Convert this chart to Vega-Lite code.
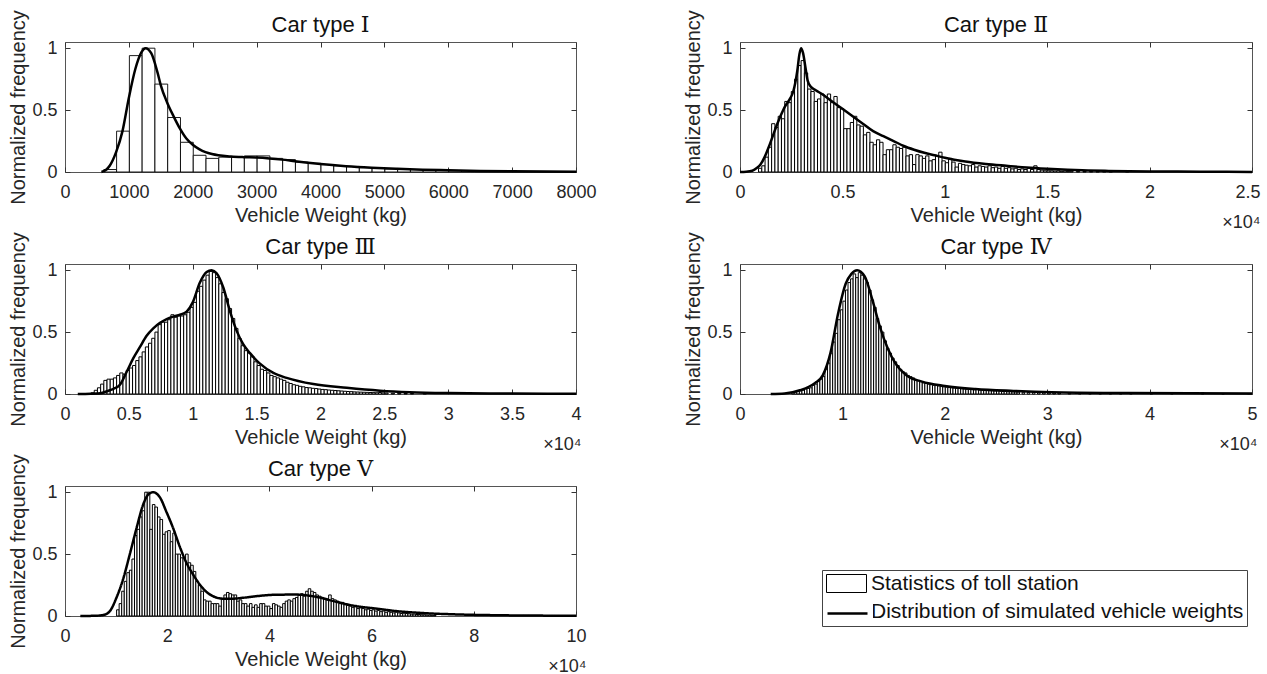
{
  "$schema": "https://vega.github.io/schema/vega-lite/v6.json",
  "padding": {"left": 8, "top": 9, "right": 5, "bottom": 5},
  "background": "white",
  "config": {
    "font": "Liberation Sans",
    "view": {"stroke": "#555", "strokeWidth": 1},
    "axis": {
      "grid": false, "domain": false, "tickSize": -5, "tickColor": "#333", "tickWidth": 1,
      "labelFont": "Liberation Sans", "labelFontSize": 18, "labelColor": "#262626",
      "titleFont": "Liberation Sans", "titleFontSize": 20, "titleFontWeight": "normal", "titleColor": "#262626",
      "labelFlush": false, "labelOverlap": false, "labelBound": false
    },
    "axisX": {"labelPadding": 16, "labelLineHeight": 30, "titleY": 33, "titleBaseline": "top"},
    "axisY": {"labelPadding": 13, "titlePadding": 3},
    "title": {"font": "Liberation Sans, DejaVu Serif", "fontSize": 22, "fontWeight": "normal", "color": "#111", "offset": -27},
    "legend": {
      "title": null, "orient": "none", "labelFont": "Liberation Sans", "labelFontSize": 21, "labelLimit": 600,
      "labelColor": "#111", "labelOffset": 14, "rowPadding": 5, "symbolSize": 400, "symbolOffset": 11
    }
  },
  "datasets": {
    "b1": [
      {"w":600,"f":0.02},{"w":800,"f":0.33},{"w":1000,"f":0.94},{"w":1200,"f":1.0},{"w":1400,"f":0.71},{"w":1600,"f":0.44},
      {"w":1800,"f":0.24},{"w":2000,"f":0.135},{"w":2200,"f":0.11},{"w":2400,"f":0.12},{"w":2600,"f":0.12},{"w":2800,"f":0.13},
      {"w":3000,"f":0.13},{"w":3200,"f":0.11},{"w":3400,"f":0.1},{"w":3600,"f":0.08},{"w":3800,"f":0.07},{"w":4000,"f":0.06},
      {"w":4200,"f":0.05},{"w":4400,"f":0.045},{"w":4600,"f":0.035},{"w":4800,"f":0.03},{"w":5000,"f":0.025},{"w":5200,"f":0.02},
      {"w":5400,"f":0.02},{"w":5600,"f":0.015},{"w":5800,"f":0.012},{"w":6000,"f":0.01},{"w":6200,"f":0.008},{"w":6400,"f":0.007},
      {"w":6600,"f":0.006},{"w":6800,"f":0.005},{"w":7000,"f":0.004},{"w":7200,"f":0.004},{"w":7400,"f":0.003},{"w":7600,"f":0.003},
      {"w":7800,"f":0.002}
    ],
    "c1": [
      {"w":570,"f":0},{"w":650,"f":0.02},{"w":700,"f":0.05},{"w":800,"f":0.16},{"w":900,"f":0.33},{"w":1000,"f":0.6},
      {"w":1100,"f":0.83},{"w":1200,"f":0.97},{"w":1260,"f":1.0},{"w":1350,"f":0.96},{"w":1450,"f":0.8},{"w":1500,"f":0.7},
      {"w":1600,"f":0.56},{"w":1700,"f":0.45},{"w":1800,"f":0.35},{"w":1900,"f":0.27},{"w":2000,"f":0.22},{"w":2100,"f":0.185},
      {"w":2200,"f":0.16},{"w":2300,"f":0.145},{"w":2400,"f":0.135},{"w":2600,"f":0.125},{"w":2800,"f":0.12},{"w":3000,"f":0.117},
      {"w":3200,"f":0.11},{"w":3400,"f":0.1},{"w":3600,"f":0.087},{"w":3800,"f":0.075},{"w":4000,"f":0.064},{"w":4400,"f":0.047},
      {"w":4800,"f":0.035},{"w":5200,"f":0.026},{"w":5600,"f":0.019},{"w":6000,"f":0.014},{"w":6500,"f":0.009},{"w":7000,"f":0.006},
      {"w":7500,"f":0.004},{"w":8000,"f":0.003}
    ],
    "b2": [
      {"w":880,"f":0.03},{"w":1040,"f":0.05},{"w":1200,"f":0.12},{"w":1360,"f":0.2},{"w":1520,"f":0.39},{"w":1680,"f":0.36},
      {"w":1840,"f":0.45},{"w":2000,"f":0.43},{"w":2160,"f":0.57},{"w":2320,"f":0.56},{"w":2480,"f":0.65},{"w":2640,"f":0.75},
      {"w":2800,"f":0.86},{"w":2960,"f":0.9},{"w":3120,"f":0.8},{"w":3280,"f":0.67},{"w":3440,"f":0.65},{"w":3600,"f":0.57},
      {"w":3760,"f":0.59},{"w":3920,"f":0.63},{"w":4080,"f":0.56},{"w":4240,"f":0.63},{"w":4400,"f":0.56},{"w":4560,"f":0.61},
      {"w":4720,"f":0.52},{"w":4880,"f":0.51},{"w":5040,"f":0.35},{"w":5200,"f":0.35},{"w":5360,"f":0.4},{"w":5520,"f":0.45},
      {"w":5680,"f":0.38},{"w":5840,"f":0.37},{"w":6000,"f":0.3},{"w":6160,"f":0.32},{"w":6320,"f":0.24},{"w":6480,"f":0.22},
      {"w":6640,"f":0.26},{"w":6800,"f":0.24},{"w":6960,"f":0.14},{"w":7120,"f":0.18},{"w":7280,"f":0.18},{"w":7440,"f":0.22},
      {"w":7600,"f":0.2},{"w":7760,"f":0.19},{"w":7920,"f":0.2},{"w":8080,"f":0.13},{"w":8240,"f":0.14},{"w":8400,"f":0.06},
      {"w":8560,"f":0.14},{"w":8720,"f":0.13},{"w":8880,"f":0.11},{"w":9040,"f":0.13},{"w":9200,"f":0.09},{"w":9360,"f":0.1},
      {"w":9520,"f":0.13},{"w":9680,"f":0.16},{"w":9840,"f":0.09},{"w":10000,"f":0.075},{"w":10160,"f":0.11},{"w":10320,"f":0.08},
      {"w":10480,"f":0.04},{"w":10640,"f":0.07},{"w":10800,"f":0.06},{"w":10960,"f":0.055},{"w":11120,"f":0.05},{"w":11280,"f":0.06},
      {"w":11440,"f":0.04},{"w":11600,"f":0.05},{"w":11760,"f":0.045},{"w":11920,"f":0.04},{"w":12080,"f":0.05},{"w":12240,"f":0.035},
      {"w":12400,"f":0.04},{"w":12560,"f":0.03},{"w":12720,"f":0.045},{"w":12880,"f":0.03},{"w":13040,"f":0.035},{"w":13200,"f":0.025},
      {"w":13360,"f":0.03},{"w":13520,"f":0.02},{"w":13680,"f":0.025},{"w":13840,"f":0.02},{"w":14000,"f":0.03},{"w":14160,"f":0.02},
      {"w":14320,"f":0.05},{"w":14480,"f":0.02},{"w":14640,"f":0.015},{"w":14800,"f":0.01},{"w":14960,"f":0.01},{"w":15120,"f":0.01},
      {"w":15280,"f":0.008},{"w":15440,"f":0.01},{"w":15600,"f":0.006},{"w":15760,"f":0.008},{"w":15920,"f":0.005},{"w":16080,"f":0.006},
      {"w":16400,"f":0.005},{"w":16720,"f":0.004},{"w":17040,"f":0.004},{"w":17360,"f":0.003},{"w":17680,"f":0.003},{"w":18000,"f":0.003},
      {"w":18800,"f":0.008}
    ],
    "c2": [
      {"w":0,"f":0},{"w":300,"f":0.002},{"w":600,"f":0.01},{"w":800,"f":0.03},{"w":1000,"f":0.06},{"w":1200,"f":0.12},
      {"w":1400,"f":0.2},{"w":1600,"f":0.29},{"w":1800,"f":0.38},{"w":2000,"f":0.46},{"w":2200,"f":0.53},{"w":2400,"f":0.58},
      {"w":2600,"f":0.65},{"w":2700,"f":0.72},{"w":2800,"f":0.82},{"w":2900,"f":0.95},{"w":2980,"f":1.0},{"w":3080,"f":0.96},
      {"w":3200,"f":0.84},{"w":3300,"f":0.74},{"w":3450,"f":0.69},{"w":3700,"f":0.66},{"w":4000,"f":0.63},{"w":4500,"f":0.57},
      {"w":5000,"f":0.51},{"w":5500,"f":0.45},{"w":6000,"f":0.39},{"w":6500,"f":0.33},{"w":7000,"f":0.29},{"w":7500,"f":0.25},
      {"w":8000,"f":0.21},{"w":8500,"f":0.18},{"w":9000,"f":0.155},{"w":9500,"f":0.135},{"w":10000,"f":0.115},{"w":11000,"f":0.085},
      {"w":12000,"f":0.065},{"w":13000,"f":0.05},{"w":14000,"f":0.036},{"w":15000,"f":0.026},{"w":16000,"f":0.018},{"w":17000,"f":0.013},
      {"w":18000,"f":0.009},{"w":20000,"f":0.005},{"w":22500,"f":0.003},{"w":25000,"f":0.001}
    ],
    "b3": [
      {"w":2000,"f":0.01},{"w":2250,"f":0.03},{"w":2500,"f":0.05},{"w":2750,"f":0.08},{"w":3000,"f":0.11},{"w":3250,"f":0.12},
      {"w":3500,"f":0.12},{"w":3750,"f":0.13},{"w":4000,"f":0.15},{"w":4250,"f":0.17},{"w":4500,"f":0.16},{"w":4750,"f":0.19},
      {"w":5000,"f":0.21},{"w":5250,"f":0.23},{"w":5500,"f":0.27},{"w":5750,"f":0.3},{"w":6000,"f":0.34},{"w":6250,"f":0.38},
      {"w":6500,"f":0.41},{"w":6750,"f":0.45},{"w":7000,"f":0.5},{"w":7250,"f":0.56},{"w":7500,"f":0.58},{"w":7750,"f":0.58},
      {"w":8000,"f":0.6},{"w":8250,"f":0.64},{"w":8500,"f":0.62},{"w":8750,"f":0.63},{"w":9000,"f":0.63},{"w":9250,"f":0.64},
      {"w":9500,"f":0.66},{"w":9750,"f":0.7},{"w":10000,"f":0.74},{"w":10250,"f":0.83},{"w":10500,"f":0.87},{"w":10750,"f":0.92},
      {"w":11000,"f":0.96},{"w":11250,"f":0.99},{"w":11500,"f":0.98},{"w":11750,"f":0.94},{"w":12000,"f":0.89},{"w":12250,"f":0.82},
      {"w":12500,"f":0.77},{"w":12750,"f":0.69},{"w":13000,"f":0.61},{"w":13250,"f":0.53},{"w":13500,"f":0.45},{"w":13750,"f":0.39},
      {"w":14000,"f":0.35},{"w":14250,"f":0.33},{"w":14500,"f":0.3},{"w":14750,"f":0.26},{"w":15000,"f":0.23},{"w":15250,"f":0.2},
      {"w":15500,"f":0.19},{"w":15750,"f":0.17},{"w":16000,"f":0.15},{"w":16250,"f":0.14},{"w":16500,"f":0.13},{"w":16750,"f":0.12},
      {"w":17000,"f":0.11},{"w":17250,"f":0.095},{"w":17500,"f":0.085},{"w":17750,"f":0.075},{"w":18000,"f":0.07},{"w":18250,"f":0.062},
      {"w":18500,"f":0.058},{"w":18750,"f":0.052},{"w":19000,"f":0.05},{"w":19250,"f":0.046},{"w":19500,"f":0.044},{"w":19750,"f":0.04},
      {"w":20000,"f":0.037},{"w":20250,"f":0.035},{"w":20500,"f":0.032},{"w":20750,"f":0.03},{"w":21000,"f":0.028},{"w":21250,"f":0.026},
      {"w":21500,"f":0.024},{"w":21750,"f":0.022},{"w":22000,"f":0.02},{"w":22250,"f":0.019},{"w":22500,"f":0.017},{"w":22750,"f":0.016},
      {"w":23000,"f":0.015},{"w":23250,"f":0.014},{"w":23500,"f":0.013},{"w":23750,"f":0.012},{"w":24000,"f":0.011},{"w":24250,"f":0.01},
      {"w":24500,"f":0.012},{"w":24750,"f":0.009},{"w":25000,"f":0.008},{"w":25500,"f":0.006},{"w":26000,"f":0.005},{"w":26500,"f":0.004},
      {"w":27000,"f":0.004},{"w":28000,"f":0.003}
    ],
    "c3": [
      {"w":1000,"f":0},{"w":2000,"f":0.002},{"w":2500,"f":0.004},{"w":2750,"f":0.006},{"w":3000,"f":0.012},{"w":3500,"f":0.03},
      {"w":3800,"f":0.042},{"w":4300,"f":0.075},{"w":4830,"f":0.18},{"w":5350,"f":0.29},{"w":5870,"f":0.38},{"w":6390,"f":0.47},
      {"w":6910,"f":0.53},{"w":7440,"f":0.575},{"w":7960,"f":0.605},{"w":8480,"f":0.625},{"w":9000,"f":0.64},{"w":9520,"f":0.665},
      {"w":10000,"f":0.74},{"w":10560,"f":0.9},{"w":11090,"f":0.985},{"w":11480,"f":1.0},{"w":11870,"f":0.975},{"w":12390,"f":0.86},
      {"w":12910,"f":0.67},{"w":13440,"f":0.51},{"w":13960,"f":0.4},{"w":14480,"f":0.33},{"w":15260,"f":0.245},{"w":16310,"f":0.17},
      {"w":17350,"f":0.13},{"w":19440,"f":0.08},{"w":22050,"f":0.05},{"w":24660,"f":0.027},{"w":27000,"f":0.015},{"w":30000,"f":0.008},
      {"w":35000,"f":0.004},{"w":40000,"f":0.002}
    ],
    "b4": [
      {"w":5000,"f":0.01},{"w":5250,"f":0.015},{"w":5500,"f":0.02},{"w":5750,"f":0.025},{"w":6000,"f":0.03},{"w":6250,"f":0.04},
      {"w":6500,"f":0.045},{"w":6750,"f":0.05},{"w":7000,"f":0.07},{"w":7250,"f":0.08},{"w":7500,"f":0.1},{"w":7750,"f":0.12},
      {"w":8000,"f":0.14},{"w":8250,"f":0.2},{"w":8500,"f":0.25},{"w":8750,"f":0.33},{"w":9000,"f":0.42},{"w":9250,"f":0.49},
      {"w":9500,"f":0.6},{"w":9750,"f":0.68},{"w":10000,"f":0.75},{"w":10250,"f":0.84},{"w":10500,"f":0.9},{"w":10750,"f":0.93},
      {"w":11000,"f":0.97},{"w":11250,"f":0.94},{"w":11500,"f":0.98},{"w":11750,"f":0.96},{"w":12000,"f":0.93},{"w":12250,"f":0.9},
      {"w":12500,"f":0.84},{"w":12750,"f":0.76},{"w":13000,"f":0.7},{"w":13250,"f":0.61},{"w":13500,"f":0.55},{"w":13750,"f":0.5},
      {"w":14000,"f":0.43},{"w":14250,"f":0.37},{"w":14500,"f":0.33},{"w":14750,"f":0.29},{"w":15000,"f":0.26},{"w":15250,"f":0.23},
      {"w":15500,"f":0.2},{"w":15750,"f":0.18},{"w":16000,"f":0.17},{"w":16250,"f":0.15},{"w":16500,"f":0.14},{"w":16750,"f":0.13},
      {"w":17000,"f":0.11},{"w":17250,"f":0.11},{"w":17500,"f":0.1},{"w":17750,"f":0.09},{"w":18000,"f":0.085},{"w":18250,"f":0.08},
      {"w":18500,"f":0.075},{"w":18750,"f":0.07},{"w":19000,"f":0.068},{"w":19250,"f":0.065},{"w":19500,"f":0.06},{"w":19750,"f":0.058},
      {"w":20000,"f":0.055},{"w":20250,"f":0.052},{"w":20500,"f":0.05},{"w":20750,"f":0.048},{"w":21000,"f":0.046},{"w":21250,"f":0.044},
      {"w":21500,"f":0.042},{"w":21750,"f":0.04},{"w":22000,"f":0.038},{"w":22250,"f":0.036},{"w":22500,"f":0.035},{"w":22750,"f":0.034},
      {"w":23000,"f":0.04},{"w":23250,"f":0.032},{"w":23500,"f":0.03},{"w":23750,"f":0.028},{"w":24000,"f":0.027},{"w":24250,"f":0.026},
      {"w":24500,"f":0.025},{"w":24750,"f":0.024},{"w":25000,"f":0.025},{"w":25250,"f":0.022},{"w":25500,"f":0.02},{"w":25750,"f":0.02},
      {"w":26000,"f":0.018},{"w":26250,"f":0.018},{"w":26500,"f":0.017},{"w":26750,"f":0.016},{"w":27000,"f":0.015},{"w":27500,"f":0.014},
      {"w":28000,"f":0.012},{"w":28500,"f":0.012},{"w":29000,"f":0.01},{"w":29500,"f":0.01},{"w":30000,"f":0.009},{"w":30500,"f":0.008},
      {"w":31000,"f":0.008},{"w":32000,"f":0.007},{"w":33000,"f":0.01},{"w":34000,"f":0.006},{"w":35000,"f":0.006},{"w":36000,"f":0.005},
      {"w":37000,"f":0.012},{"w":38000,"f":0.005},{"w":40000,"f":0.004},{"w":42000,"f":0.004},{"w":45000,"f":0.01},{"w":47000,"f":0.003}
    ],
    "c4": [
      {"w":3000,"f":0},{"w":4360,"f":0.005},{"w":5850,"f":0.03},{"w":7340,"f":0.09},{"w":8080,"f":0.15},{"w":8830,"f":0.33},
      {"w":9580,"f":0.65},{"w":10320,"f":0.89},{"w":10880,"f":0.97},{"w":11440,"f":1.0},{"w":12180,"f":0.95},{"w":12930,"f":0.76},
      {"w":13670,"f":0.54},{"w":14420,"f":0.37},{"w":15160,"f":0.25},{"w":16280,"f":0.15},{"w":17770,"f":0.1},{"w":20010,"f":0.065},
      {"w":22990,"f":0.04},{"w":26710,"f":0.025},{"w":30440,"f":0.015},{"w":37890,"f":0.008},{"w":50000,"f":0.004}
    ],
    "b5": [
      {"w":10000,"f":0.05},{"w":10500,"f":0.1},{"w":11000,"f":0.2},{"w":11500,"f":0.28},{"w":12000,"f":0.35},{"w":12500,"f":0.37},
      {"w":13000,"f":0.46},{"w":13500,"f":0.65},{"w":14000,"f":0.7},{"w":14500,"f":0.8},{"w":15000,"f":0.85},{"w":15500,"f":1.0},
      {"w":16000,"f":1.0},{"w":16500,"f":0.7},{"w":17000,"f":0.9},{"w":17500,"f":0.88},{"w":18000,"f":0.8},{"w":18500,"f":0.78},
      {"w":19000,"f":0.66},{"w":19500,"f":0.68},{"w":20000,"f":0.69},{"w":20500,"f":0.6},{"w":21000,"f":0.67},{"w":21500,"f":0.5},
      {"w":22000,"f":0.5},{"w":22500,"f":0.47},{"w":23000,"f":0.47},{"w":23500,"f":0.5},{"w":24000,"f":0.43},{"w":24500,"f":0.41},
      {"w":25000,"f":0.36},{"w":25500,"f":0.28},{"w":26000,"f":0.25},{"w":26500,"f":0.2},{"w":27000,"f":0.13},{"w":27500,"f":0.12},
      {"w":28000,"f":0.12},{"w":28500,"f":0.1},{"w":29000,"f":0.1},{"w":29500,"f":0.1},{"w":30000,"f":0.08},{"w":30500,"f":0.14},
      {"w":31000,"f":0.17},{"w":31500,"f":0.19},{"w":32000,"f":0.18},{"w":32500,"f":0.17},{"w":33000,"f":0.17},{"w":33500,"f":0.12},
      {"w":34000,"f":0.13},{"w":34500,"f":0.1},{"w":35000,"f":0.1},{"w":35500,"f":0.08},{"w":36000,"f":0.1},{"w":36500,"f":0.07},
      {"w":37000,"f":0.09},{"w":37500,"f":0.07},{"w":38000,"f":0.1},{"w":38500,"f":0.1},{"w":39000,"f":0.08},{"w":39500,"f":0.08},
      {"w":40000,"f":0.06},{"w":40500,"f":0.1},{"w":41000,"f":0.09},{"w":41500,"f":0.08},{"w":42000,"f":0.07},{"w":42500,"f":0.1},
      {"w":43000,"f":0.12},{"w":43500,"f":0.13},{"w":44000,"f":0.12},{"w":44500,"f":0.14},{"w":45000,"f":0.15},{"w":45500,"f":0.17},
      {"w":46000,"f":0.18},{"w":46500,"f":0.16},{"w":47000,"f":0.2},{"w":47500,"f":0.22},{"w":48000,"f":0.2},{"w":48500,"f":0.19},
      {"w":49000,"f":0.17},{"w":49500,"f":0.16},{"w":50000,"f":0.15},{"w":50500,"f":0.14},{"w":51000,"f":0.13},{"w":51500,"f":0.17},
      {"w":52000,"f":0.14},{"w":52500,"f":0.13},{"w":53000,"f":0.12},{"w":53500,"f":0.1},{"w":54000,"f":0.11},{"w":54500,"f":0.09},
      {"w":55000,"f":0.085},{"w":55500,"f":0.08},{"w":56000,"f":0.07},{"w":56500,"f":0.075},{"w":57000,"f":0.06},{"w":57500,"f":0.065},
      {"w":58000,"f":0.06},{"w":58500,"f":0.05},{"w":59000,"f":0.055},{"w":59500,"f":0.045},{"w":60000,"f":0.05},{"w":60500,"f":0.04},
      {"w":61000,"f":0.045},{"w":61500,"f":0.035},{"w":62000,"f":0.04},{"w":62500,"f":0.03},{"w":63000,"f":0.035},{"w":63500,"f":0.03},
      {"w":64000,"f":0.025},{"w":64500,"f":0.03},{"w":65000,"f":0.025},{"w":65500,"f":0.02},{"w":66000,"f":0.022},{"w":66500,"f":0.02},
      {"w":67000,"f":0.018},{"w":67500,"f":0.015},{"w":68000,"f":0.015},{"w":68500,"f":0.012},{"w":69000,"f":0.012},{"w":69500,"f":0.01},
      {"w":70000,"f":0.01},{"w":70500,"f":0.008},{"w":71000,"f":0.008},{"w":71500,"f":0.006},{"w":72000,"f":0.005}
    ],
    "c5": [
      {"w":3000,"f":0},{"w":6000,"f":0.002},{"w":7500,"f":0.008},{"w":8790,"f":0.04},{"w":10090,"f":0.15},{"w":11390,"f":0.3},
      {"w":12690,"f":0.5},{"w":14000,"f":0.71},{"w":15300,"f":0.9},{"w":16270,"f":0.98},{"w":17250,"f":1.0},{"w":18550,"f":0.96},
      {"w":19860,"f":0.84},{"w":21160,"f":0.71},{"w":22460,"f":0.56},{"w":23760,"f":0.43},{"w":25070,"f":0.335},{"w":26370,"f":0.255},
      {"w":27670,"f":0.195},{"w":28970,"f":0.16},{"w":30920,"f":0.14},{"w":33000,"f":0.14},{"w":35000,"f":0.148},{"w":37420,"f":0.16},
      {"w":41330,"f":0.172},{"w":45230,"f":0.173},{"w":49140,"f":0.155},{"w":53050,"f":0.115},{"w":56950,"f":0.08},{"w":60860,"f":0.06},
      {"w":64770,"f":0.04},{"w":69980,"f":0.024},{"w":76490,"f":0.013},{"w":85000,"f":0.006},{"w":100000,"f":0.002}
    ]
  },
  "columns": 2,
  "spacing": {"row": 92, "column": 164},
  "bounds": "flush",
  "resolve": {
    "scale": {"x": "independent", "y": "independent", "stroke": "shared", "strokeDash": "shared"},
    "legend": {"stroke": "shared", "strokeDash": "shared"}
  },
  "concat": [
    {
      "width": 511, "height": 130, "title": "Car type  Ⅰ",
      "resolve": {"axis": {"x": "independent", "y": "independent"}},
      "layer": [
        {
          "data": {"name": "b1"},
          "mark": {"type": "bar", "fill": "white", "stroke": "black", "strokeWidth": 0.9, "binSpacing": 0},
          "encoding": {
            "x": {"field": "w", "type": "quantitative", "bin": {"binned": true, "step": 200},
                  "scale": {"domain": [0, 8000], "nice": false, "zero": false},
                  "axis": {"values": [0,1000,2000,3000,4000,5000,6000,7000,8000], "format": "d", "title": "Vehicle Weight (kg)"}},
            "y": {"field": "f", "type": "quantitative", "scale": {"domain": [0, 1.05], "nice": false},
                  "axis": {"values": [0, 0.5, 1], "format": "~g", "title": "Normalized frequency"}}
          }
        },
        {
          "data": {"name": "c1"},
          "mark": {"type": "line", "color": "black", "strokeWidth": 2.5, "interpolate": "monotone"},
          "encoding": {
            "x": {"field": "w", "type": "quantitative", "scale": {"domain": [0, 8000], "nice": false, "zero": false},
                  "axis": {"orient": "top", "labels": false, "title": null, "values": [0,1000,2000,3000,4000,5000,6000,7000,8000]}},
            "y": {"field": "f", "type": "quantitative", "scale": {"domain": [0, 1.05], "nice": false},
                  "axis": {"orient": "right", "labels": false, "title": null, "values": [0, 0.5, 1]}}
          }
        }
      ]
    },
    {
      "width": 512, "height": 130, "title": "Car type Ⅱ",
      "resolve": {"axis": {"x": "independent", "y": "independent"}},
      "layer": [
        {
          "data": {"name": "b2"},
          "mark": {"type": "bar", "fill": "white", "stroke": "black", "strokeWidth": 1, "binSpacing": 0},
          "encoding": {
            "x": {"field": "w", "type": "quantitative", "bin": {"binned": true, "step": 160},
                  "scale": {"domain": [0, 25000], "nice": false, "zero": false},
                  "axis": {"values": [0,5000,10000,15000,20000,25000], "title": "Vehicle Weight (kg)",
                           "labelExpr": "datum.value == 25000 ? ['2.5', '×10⁴'] : '' + datum.value / 10000",
                           "labelAlign": {"condition": {"test": "datum.value == 25000", "value": "right"}, "value": "center"},
                           "labelOffset": {"condition": {"test": "datum.value == 25000", "value": 8}, "value": 0}}},
            "y": {"field": "f", "type": "quantitative", "scale": {"domain": [0, 1.05], "nice": false},
                  "axis": {"values": [0, 0.5, 1], "format": "~g", "title": "Normalized frequency"}}
          }
        },
        {
          "data": {"name": "c2"},
          "mark": {"type": "line", "color": "black", "strokeWidth": 2.5, "interpolate": "monotone"},
          "encoding": {
            "x": {"field": "w", "type": "quantitative", "scale": {"domain": [0, 25000], "nice": false, "zero": false},
                  "axis": {"orient": "top", "labels": false, "title": null, "values": [0,5000,10000,15000,20000,25000]}},
            "y": {"field": "f", "type": "quantitative", "scale": {"domain": [0, 1.05], "nice": false},
                  "axis": {"orient": "right", "labels": false, "title": null, "values": [0, 0.5, 1]}}
          }
        }
      ]
    },
    {
      "width": 511, "height": 130, "title": "Car type Ⅲ",
      "resolve": {"axis": {"x": "independent", "y": "independent"}},
      "layer": [
        {
          "data": {"name": "b3"},
          "mark": {"type": "bar", "fill": "white", "stroke": "black", "strokeWidth": 1, "binSpacing": 0},
          "encoding": {
            "x": {"field": "w", "type": "quantitative", "bin": {"binned": true, "step": 250},
                  "scale": {"domain": [0, 40000], "nice": false, "zero": false},
                  "axis": {"values": [0,5000,10000,15000,20000,25000,30000,35000,40000], "title": "Vehicle Weight (kg)",
                           "labelExpr": "datum.value == 40000 ? ['4', '×10⁴'] : '' + datum.value / 10000",
                           "labelAlign": {"condition": {"test": "datum.value == 40000", "value": "right"}, "value": "center"},
                           "labelOffset": {"condition": {"test": "datum.value == 40000", "value": 5}, "value": 0}}},
            "y": {"field": "f", "type": "quantitative", "scale": {"domain": [0, 1.05], "nice": false},
                  "axis": {"values": [0, 0.5, 1], "format": "~g", "title": "Normalized frequency"}}
          }
        },
        {
          "data": {"name": "c3"},
          "mark": {"type": "line", "color": "black", "strokeWidth": 2.5, "interpolate": "monotone"},
          "encoding": {
            "x": {"field": "w", "type": "quantitative", "scale": {"domain": [0, 40000], "nice": false, "zero": false},
                  "axis": {"orient": "top", "labels": false, "title": null, "values": [0,5000,10000,15000,20000,25000,30000,35000,40000]}},
            "y": {"field": "f", "type": "quantitative", "scale": {"domain": [0, 1.05], "nice": false},
                  "axis": {"orient": "right", "labels": false, "title": null, "values": [0, 0.5, 1]}}
          }
        }
      ]
    },
    {
      "width": 512, "height": 130, "title": "Car type Ⅳ",
      "resolve": {"axis": {"x": "independent", "y": "independent"}},
      "layer": [
        {
          "data": {"name": "b4"},
          "mark": {"type": "bar", "fill": "white", "stroke": "black", "strokeWidth": 1, "binSpacing": 0},
          "encoding": {
            "x": {"field": "w", "type": "quantitative", "bin": {"binned": true, "step": 250},
                  "scale": {"domain": [0, 50000], "nice": false, "zero": false},
                  "axis": {"values": [0,10000,20000,30000,40000,50000], "title": "Vehicle Weight (kg)",
                           "labelExpr": "datum.value == 50000 ? ['5', '×10⁴'] : '' + datum.value / 10000",
                           "labelAlign": {"condition": {"test": "datum.value == 50000", "value": "right"}, "value": "center"},
                           "labelOffset": {"condition": {"test": "datum.value == 50000", "value": 5}, "value": 0}}},
            "y": {"field": "f", "type": "quantitative", "scale": {"domain": [0, 1.05], "nice": false},
                  "axis": {"values": [0, 0.5, 1], "format": "~g", "title": "Normalized frequency"}}
          }
        },
        {
          "data": {"name": "c4"},
          "mark": {"type": "line", "color": "black", "strokeWidth": 2.5, "interpolate": "monotone"},
          "encoding": {
            "x": {"field": "w", "type": "quantitative", "scale": {"domain": [0, 50000], "nice": false, "zero": false},
                  "axis": {"orient": "top", "labels": false, "title": null, "values": [0,10000,20000,30000,40000,50000]}},
            "y": {"field": "f", "type": "quantitative", "scale": {"domain": [0, 1.05], "nice": false},
                  "axis": {"orient": "right", "labels": false, "title": null, "values": [0, 0.5, 1]}}
          }
        }
      ]
    },
    {
      "width": 511, "height": 130, "title": "Car type  Ⅴ",
      "resolve": {"axis": {"x": "independent", "y": "independent"}},
      "layer": [
        {
          "data": {"name": "b5"},
          "mark": {"type": "bar", "fill": "white", "stroke": "black", "strokeWidth": 1, "binSpacing": 0},
          "encoding": {
            "x": {"field": "w", "type": "quantitative", "bin": {"binned": true, "step": 500},
                  "scale": {"domain": [0, 100000], "nice": false, "zero": false},
                  "axis": {"values": [0,20000,40000,60000,80000,100000], "title": "Vehicle Weight (kg)",
                           "labelExpr": "datum.value == 100000 ? ['10', '×10⁴'] : '' + datum.value / 10000",
                           "labelAlign": {"condition": {"test": "datum.value == 100000", "value": "right"}, "value": "center"},
                           "labelOffset": {"condition": {"test": "datum.value == 100000", "value": 10}, "value": 0}}},
            "y": {"field": "f", "type": "quantitative", "scale": {"domain": [0, 1.05], "nice": false},
                  "axis": {"values": [0, 0.5, 1], "format": "~g", "title": "Normalized frequency"}},
            "stroke": {"datum": "Statistics of toll station",
                       "scale": {"domain": ["Statistics of toll station", "Distribution of simulated vehicle weights"], "range": ["black", "black"]},
                       "legend": {"legendX": 757, "legendY": 528, "strokeColor": "#444", "fillColor": "white", "padding": 3,
                                  "symbolType": "M-2,-0.9L2,-0.9L2,0.9L-2,0.9Z", "symbolFillColor": "white", "symbolOpacity": 1,
                                  "symbolStrokeColor": "black", "symbolStrokeWidth": 1}}
          }
        },
        {
          "data": {"name": "c5"},
          "mark": {"type": "line", "color": "black", "strokeWidth": 2.5, "interpolate": "monotone"},
          "encoding": {
            "x": {"field": "w", "type": "quantitative", "scale": {"domain": [0, 100000], "nice": false, "zero": false},
                  "axis": {"orient": "top", "labels": false, "title": null, "values": [0,20000,40000,60000,80000,100000]}},
            "y": {"field": "f", "type": "quantitative", "scale": {"domain": [0, 1.05], "nice": false},
                  "axis": {"orient": "right", "labels": false, "title": null, "values": [0, 0.5, 1]}},
            "strokeDash": {"datum": "Distribution of simulated vehicle weights",
                           "scale": {"domain": ["Distribution of simulated vehicle weights"], "range": [[1, 0]]},
                           "legend": {"legendX": 760, "legendY": 560, "fillColor": "white", "padding": 0, "labelExpr": "''",
                                      "symbolType": "M-2,0L2,0", "symbolStrokeColor": "black", "symbolStrokeWidth": 2.5}}
          }
        }
      ]
    }
  ]
}
